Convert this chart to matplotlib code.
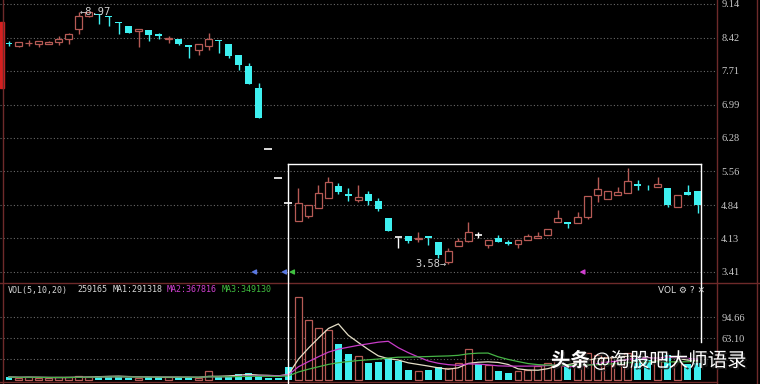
import matplotlib
matplotlib.use('Agg')
import matplotlib.pyplot as plt
import matplotlib.patheffects as pe
from matplotlib.lines import Line2D
from matplotlib.patches import Rectangle
import numpy as np
import pandas as pd

# 日K数据
opens = [8.31, 8.24, 8.30, 8.29, 8.29, 8.33, 8.39, 8.61, 8.89, 8.93,
         8.88, 8.76, 8.67, 8.56, 8.58, 8.50, 8.39, 8.39, 8.26, 8.16,
         8.24, 8.37, 8.29, 8.05, 7.81, 7.34, 6.03, 5.43, 4.89, 4.50,
         4.61, 4.78, 4.99, 5.25, 5.08, 4.95, 5.08, 4.93, 4.56, 4.16,
         4.18, 4.12, 4.18, 4.05, 3.62, 3.97, 4.07, 4.20, 3.99, 4.14,
         4.05, 4.01, 4.09, 4.14, 4.20, 4.48, 4.48, 4.46, 4.59, 5.06,
         4.97, 5.06, 5.10, 5.29, 5.27, 5.23, 5.21, 4.80, 5.12, 5.14]
highs = [8.35, 8.33, 8.37, 8.35, 8.34, 8.46, 8.52, 8.97, 8.96, 8.93,
         8.88, 8.76, 8.67, 8.61, 8.59, 8.52, 8.46, 8.40, 8.26, 8.29,
         8.52, 8.37, 8.29, 8.05, 7.88, 7.45, 6.03, 5.43, 4.89, 5.21,
         4.84, 5.27, 5.44, 5.31, 5.21, 5.27, 5.14, 4.99, 4.57, 4.16,
         4.18, 4.27, 4.18, 4.06, 3.92, 4.14, 4.48, 4.27, 4.09, 4.20,
         4.09, 4.09, 4.22, 4.27, 4.33, 4.74, 4.48, 4.69, 5.03, 5.44,
         5.14, 5.23, 5.63, 5.38, 5.27, 5.44, 5.21, 5.06, 5.27, 5.14]
lows = [8.24, 8.22, 8.24, 8.22, 8.28, 8.26, 8.29, 8.50, 8.87, 8.71,
        8.67, 8.50, 8.51, 8.22, 8.35, 8.39, 8.31, 8.26, 7.99, 8.05,
        8.16, 8.09, 7.99, 7.73, 7.43, 6.70, 6.03, 5.43, 4.89, 4.50,
        4.56, 4.77, 4.99, 5.08, 4.93, 4.91, 4.84, 4.71, 4.28, 3.92,
        4.03, 4.05, 3.99, 3.71, 3.58, 3.96, 4.06, 4.14, 3.92, 4.05,
        3.99, 3.92, 4.09, 4.14, 4.20, 4.48, 4.35, 4.46, 4.54, 4.91,
        4.97, 5.06, 5.10, 5.16, 5.16, 5.23, 4.80, 4.80, 5.06, 4.67]
closes = [8.29, 8.33, 8.31, 8.35, 8.33, 8.39, 8.50, 8.88, 8.96, 8.91,
          8.86, 8.73, 8.52, 8.61, 8.48, 8.46, 8.41, 8.29, 8.22, 8.29,
          8.39, 8.35, 8.03, 7.84, 7.43, 6.70, 6.03, 5.43, 4.89, 4.89,
          4.84, 5.10, 5.33, 5.12, 5.04, 5.01, 4.93, 4.76, 4.29, 4.16,
          4.07, 4.14, 4.14, 3.77, 3.86, 4.07, 4.27, 4.20, 4.09, 4.05,
          4.01, 4.09, 4.18, 4.18, 4.33, 4.56, 4.44, 4.59, 5.03, 5.18,
          5.14, 5.12, 5.36, 5.25, 5.26, 5.29, 4.84, 5.06, 5.06, 4.84]
# 成交量 (万)
volumes = [4.5, 3.5, 4.5, 3.5, 3.0, 4.0, 4.0, 6.0, 5.0, 6.0,
           6.5, 5.5, 3.0, 3.5, 4.5, 4.5, 4.0, 3.5, 3.5, 3.5,
           13.0, 4.5, 6.0, 9.0, 10.0, 7.5, 2.5, 2.5, 19.5, 124.7,
           90.0, 78.0, 75.0, 54.0, 39.0, 36.0, 25.5, 27.0, 33.0, 28.6,
           15.0, 13.5, 15.0, 19.5, 18.0, 25.5, 46.6, 24.0, 22.5, 13.5,
           10.5, 13.5, 15.0, 21.0, 25.5, 32.0, 22.0, 30.0, 40.0, 38.0,
           34.0, 28.0, 40.0, 36.0, 30.0, 29.7, 38.0, 28.0, 24.0, 25.9165]

price_ticks = [9.14, 8.42, 7.71, 6.99, 6.28, 5.56, 4.84, 4.13, 3.41]
price_labels = ['9.14', '8.42', '7.71', '6.99', '6.28', '5.56', '4.84', '4.13', '3.41']
vol_ticks = [31.55, 63.10, 94.66]
vol_labels = ['', '63.10', '94.66']
flag_pos = [24.6, 27.6, 28.4, 57.5]
flag_cols = ['#5a78e0', '#5a78e0', '#40c040', '#d040d0']

UP = '#b65a55'
DN = '#3ef0f0'
GRID = '#6a6a6a'
FRAME = '#6e2a2a'

W, H = 760, 384
fx = lambda px: px / W
fy = lambda py: 1 - py / H

fig = plt.figure(figsize=(7.6, 3.84), dpi=100, facecolor='black')
ax = fig.add_axes([0, fy(282), fx(717), 282 / H], facecolor='black')
axv = fig.add_axes([0, 0, fx(717), (H - 283) / H], facecolor='black')

o, h, l, c = map(np.array, (opens, highs, lows, closes))
v = np.array(volumes)
x = np.arange(len(o))
up = c > o
dn = c < o
flat = c == o

# 蜡烛
wick_cols = np.where(up, UP, np.where(dn, DN, 'white'))
ax.vlines(x, l, h, colors=wick_cols, lw=1, zorder=1)
ax.bar(x[up], (c - o)[up], bottom=o[up], width=0.7, facecolor='black',
       edgecolor=UP, lw=0.9, zorder=2)
ax.bar(x[dn], (c - o)[dn], bottom=o[dn], width=0.7, color=DN, lw=0, zorder=2)
for i in x[flat]:
    wd = 0.4 if h[i] == l[i] else 0.35
    ax.hlines(o[i], i - wd, i + wd, colors='white', lw=1.2, zorder=2)

ax.text(7.1, 8.97, '←8.97', color='#d0d0d0', fontsize=7.5, va='center', ha='left',
        family='DejaVu Sans Mono', zorder=3)
ax.text(43.8, 3.58, '3.58→', color='#d0d0d0', fontsize=7.5, va='center', ha='right',
        family='DejaVu Sans Mono', zorder=3)
ax.scatter(flag_pos, [3.41] * len(flag_pos), marker='<', s=8, c=flag_cols, zorder=3)

ax.set_xlim(-0.902, 70.94)
ax.set_ylim(3.1961, 9.2255)
ax.set_yticks(price_ticks)
ax.set_yticklabels(price_labels)
ax.grid(axis='y', color=GRID, linestyle=(0, (1, 2)), lw=0.8)

# 成交量
dn_v = dn | (flat & (c < np.r_[c[0], c[:-1]]))
up_v = ~dn_v
axv.bar(x[up_v], v[up_v], width=0.7, facecolor='black', edgecolor=UP, lw=0.9, zorder=2)
axv.bar(x[dn_v], v[dn_v], width=0.7, color=DN, lw=0, zorder=2)
vs = pd.Series(volumes)
axv.plot(x, vs.rolling(5, min_periods=1).mean(), color='#e6e0c8', lw=0.9, zorder=3)
axv.plot(x, vs.rolling(10, min_periods=1).mean(), color='#c83cc8', lw=0.9, zorder=3)
axv.plot(x, vs.rolling(20, min_periods=1).mean(), color='#46b446', lw=0.9, zorder=3)
axv.set_xlim(-0.902, 70.94)
axv.set_ylim(-6.0, 145.8)
axv.set_yticks(vol_ticks)
axv.set_yticklabels(vol_labels)
axv.grid(axis='y', color=GRID, linestyle=(0, (1, 2)), lw=0.8)

for a in (ax, axv):
    for s in a.spines.values():
        s.set_visible(False)
    a.set_xticks([])
    a.yaxis.tick_right()
    a.tick_params(axis='y', length=0, pad=3, labelsize=7.5, labelcolor='#c8c8c8')
    for t in a.get_yticklabels():
        t.set_fontfamily('Liberation Serif')

# 边框
for xs, ys, col in [
    ([717, 717], [0, 384], FRAME), ([757, 757], [0, 384], FRAME),
    ([0, 760], [282.5, 282.5], FRAME), ([3.5, 3.5], [0, 384], FRAME),
    ([0, 717], [381.5, 381.5], FRAME),
    ([288, 288], [164, 384], 'white'), ([288, 701], [164, 164], 'white'),
    ([701, 701], [164, 342], 'white')]:
    fig.add_artist(Line2D([fx(p) for p in xs], [fy(p) for p in ys], color=col, lw=1))
fig.add_artist(Rectangle((0, fy(88)), fx(4), 66 / H, color='#d42020',
                         transform=fig.transFigure))

# 指标标题
hdr = [(8, 'VOL(5,10,20)', '#d8d8d8'), (77, '259165', '#d8d8d8'),
       (113, 'MA1:291318', '#d8d8d8'), (167, 'MA2:367816', '#d040d0'),
       (222, 'MA3:349130', '#40c040')]
for px, s, col in hdr:
    fig.text(fx(px), fy(290), s, color=col, fontsize=6, family='DejaVu Sans Mono',
             va='center', ha='left')
fig.text(fx(658), fy(290), 'VOL ⚙ ? ✕', color='#d8d8d8', fontsize=6.5,
         family='DejaVu Sans', va='center', ha='left')

# 水印
shadow = [pe.SimplePatchShadow(offset=(1.2, -1.2), shadow_rgbFace='#202020', alpha=0.9),
          pe.Normal()]
fig.text(fx(551), fy(361), '头条', color='white', fontsize=14, fontweight='bold',
         family=['Noto Sans CJK SC', 'DejaVu Sans'], va='center', ha='left',
         path_effects=shadow)
fig.text(fx(592), fy(361), '@淘股吧大师语录', color='white', fontsize=14,
         family=['Noto Sans CJK SC', 'DejaVu Sans'], va='center', ha='left',
         path_effects=shadow)

fig.savefig('out.png', dpi=100, facecolor='black')
